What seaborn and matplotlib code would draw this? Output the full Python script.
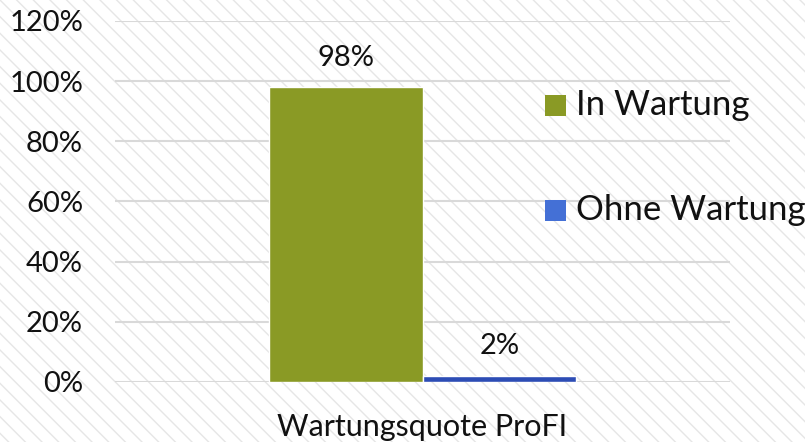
import matplotlib
matplotlib.use("Agg")
import matplotlib.pyplot as plt
import seaborn as sns
import pandas as pd
from matplotlib.patches import Rectangle
from matplotlib.ticker import PercentFormatter

categories = ["Wartungsquote ProFI"]
series = ["In Wartung", "Ohne Wartung"]
values = [0.98, 0.02]
labels = ["98%", "2%"]
colors = ["#8A9A25", "#2D4DB5"]
legend_colors = ["#8A9A25", "#4470D6"]
yticks = [0, 0.2, 0.4, 0.6, 0.8, 1.0, 1.2]

sns.set_theme(style="white")
plt.rcParams['font.family'] = ['Lato', 'DejaVu Sans']
plt.rcParams['hatch.linewidth'] = 1.0
plt.rcParams['hatch.color'] = '#e6e6e6'

df = pd.DataFrame({"cat": categories * len(series), "series": series, "val": values})

fig = plt.figure(figsize=(8.05, 4.42), dpi=100)
fig.patch.set_facecolor("white")
bg = Rectangle((0, 0), 1, 1, transform=fig.transFigure, facecolor="white",
               edgecolor="#e6e6e6", hatch="\\\\", linewidth=0, zorder=-10)
fig.patches.append(bg)

ax = fig.add_axes([115/805, 1 - 382/442, (730-115)/805, (382-21)/442])
ax.set_facecolor("none")
sns.barplot(data=df, x="cat", y="val", hue="series", palette=colors,
            width=0.5, saturation=1, ax=ax, legend=False, zorder=3)
ax.set_ylim(0, 1.2)
ax.set_yticks(yticks)
ax.yaxis.set_major_formatter(PercentFormatter(1.0, decimals=0))
ax.grid(axis="y", color="#d9d9d9", linewidth=1.5, zorder=0)
ax.set_axisbelow(True)
for s in ax.spines.values():
    s.set_visible(False)
ax.set_xlabel("")
ax.set_ylabel("")
ax.tick_params(axis="y", labelsize=21, colors="#111111", pad=23, length=0)
ax.tick_params(axis="x", labelsize=22, colors="#111111", pad=22, length=0)

for cont, lab in zip(ax.containers, labels):
    ax.bar_label(cont, labels=[lab], padding=12, fontsize=21, color="#111111")

for i, (s, c) in enumerate(zip(series, legend_colors)):
    y = 105/442 if i == 0 else 210/442
    fig.patches.append(Rectangle((545/805, 1 - y - 11/442), 21/805, 21/442,
                                 transform=fig.transFigure, facecolor=c,
                                 edgecolor="none", zorder=5))
    fig.text(576/805, 1 - y, s, fontsize=25, color="#111111", va="center", ha="left")

fig.savefig("out.png", dpi=100)
